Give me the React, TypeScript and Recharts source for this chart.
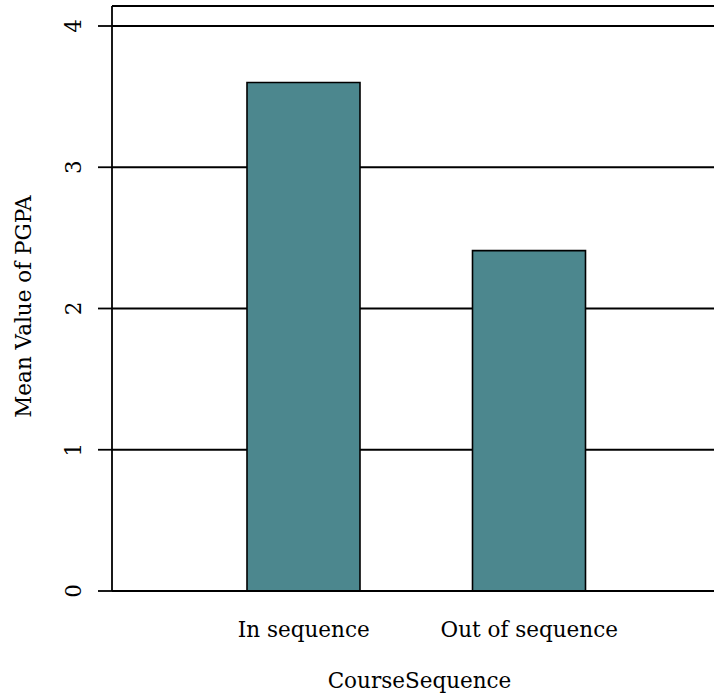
import { Bar, BarChart, CartesianGrid, Label, XAxis, YAxis } from "recharts";

const categories = ["In sequence", "Out of sequence"];
const meanPgpa = [3.6, 2.41];
const yTicks = [0, 1, 2, 3, 4];

const data = categories.map((name, i) => ({ name, value: meanPgpa[i] }));

const FONT = "DejaVu Serif";
const FS = 21.5;

const YTick = (props: any) => {
  const { x, y, payload } = props;
  const tx = x - 24.5;
  return (
    <text
      x={tx}
      y={y}
      transform={`rotate(-90, ${tx}, ${y})`}
      textAnchor="middle"
      dominantBaseline="central"
      fontFamily={FONT}
      fontSize={FS}
      fill="#000"
    >
      {payload.value}
    </text>
  );
};

const YTitle = (props: any) => {
  const vb = props.viewBox;
  const tx = vb.x + 23;
  const ty = vb.y + vb.height / 2 + 8;
  return (
    <text
      x={tx}
      y={ty}
      transform={`rotate(-90, ${tx}, ${ty})`}
      textAnchor="middle"
      dominantBaseline="central"
      fontFamily={FONT}
      fontSize={FS}
      fill="#000"
    >
      Mean Value of PGPA
    </text>
  );
};

export default function App() {
  return (
    <div style={{ position: "absolute", left: 0, top: 0, width: 714, height: 696, overflow: "hidden", background: "#fff" }}>
      <BarChart width={722} height={696} data={data} margin={{ top: 6, right: 1, left: 0, bottom: 5 }}>
        <CartesianGrid vertical={false} stroke="#000" strokeWidth={1.8} />
        <XAxis
          xAxisId="top"
          orientation="top"
          dataKey="name"
          height={0}
          tick={false}
          tickLine={false}
          axisLine={{ stroke: "#000", strokeWidth: 1.8 }}
          padding={{ left: 79, right: 79 }}
        />
        <XAxis
          dataKey="name"
          height={100}
          padding={{ left: 79, right: 79 }}
          tickLine={false}
          tickSize={0}
          tickMargin={31}
          axisLine={{ stroke: "#000", strokeWidth: 1.8 }}
          tick={{ fill: "#000", fontFamily: FONT, fontSize: FS }}
        >
          <Label value="CourseSequence" position="insideBottom" offset={3} dx={3} fill="#000" fontFamily={FONT} fontSize={FS} />
        </XAxis>
        <YAxis
          width={112}
          domain={[0, 4]}
          ticks={yTicks}
          padding={{ top: 20 }}
          tickSize={14}
          tickMargin={0}
          tickLine={{ stroke: "#000", strokeWidth: 1.8 }}
          axisLine={{ stroke: "#000", strokeWidth: 1.8 }}
          tick={<YTick />}
        >
          <Label content={<YTitle />} />
        </YAxis>
        <Bar dataKey="value" barSize={113} fill="#4c878e" stroke="#000" strokeWidth={1.6} isAnimationActive={false} />
      </BarChart>
    </div>
  );
}
